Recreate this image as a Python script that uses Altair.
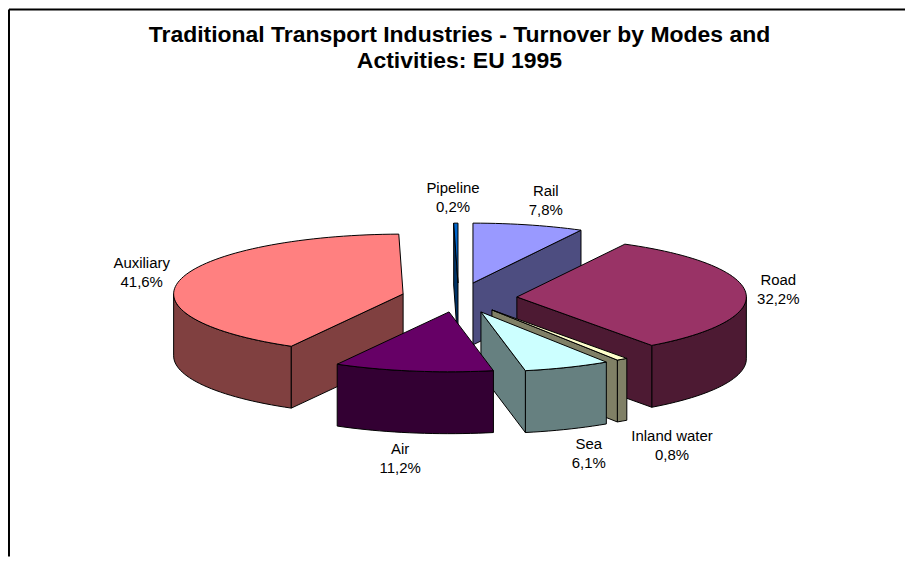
import math
import altair as alt
import pandas as pd

# --- data ---
categories = ["Rail", "Road", "Inland water", "Sea", "Air", "Auxiliary", "Pipeline"]
shares = [7.8, 32.2, 0.8, 6.1, 11.2, 41.6, 0.2]
share_labels = ["7,8%", "32,2%", "0,8%", "6,1%", "11,2%", "41,6%", "0,2%"]
top_colors = ["#9999FF", "#993366", "#FFFFCC", "#CCFFFF", "#660066", "#FF8080", "#0066CC"]
side_colors = ["#4D4D80", "#4D1A33", "#808066", "#668080", "#330033", "#804040", "#003366"]

# --- layout of the exploded 3-D pie ---
apex_x = [473, 517, 492, 481, 449, 403, 458]
apex_y = [282, 296, 309, 311, 311, 293, 282]
label_x = [546, 779, 672.5, 589, 400, 141, 453]
label_y = [190, 279, 435, 443, 448, 262, 187]
RX, RY, DEPTH = 230, 60, 62
draw_order = ["Auxiliary", "Pipeline", "Rail", "Road", "Inland water", "Sea", "Air"]
title_lines = ["Traditional Transport Industries - Turnover by Modes and", "Activities: EU 1995"]

X0, X1, Y0, Y1 = 8, 906, 8, 556

spans = {}
running = 0.0
for name, share in zip(categories, shares):
    end_angle = 360.0 if name == categories[-1] else (running + share) * 3.6
    spans[name] = (running * 3.6, end_angle)
    running += share

rows = []
poly_id = 0


def add_polygon(points, color):
    global poly_id
    poly_id += 1
    for i, (px, py) in enumerate(points + points[:1]):
        rows.append({"x": px, "y": py, "poly": f"p{poly_id:03d}", "i": i, "color": color})


def rim(cx, cy, start, end):
    n = max(2, int((end - start) / 2) + 2)
    out = []
    for k in range(n):
        t = math.radians(start + (end - start) * k / (n - 1))
        out.append((cx + RX * math.sin(t), cy - RY * math.cos(t)))
    return out


def wall(cx, cy, angle):
    t = math.radians(angle)
    ex, ey = cx + RX * math.sin(t), cy - RY * math.cos(t)
    return [(cx, cy), (ex, ey), (ex, ey + DEPTH), (cx, cy + DEPTH)]


for name in draw_order:
    k = categories.index(name)
    cx, cy = apex_x[k], apex_y[k]
    start, end = spans[name]
    # rim wall, front half only
    lo, hi = max(start, 90), min(end, 270)
    if hi > lo:
        arc = rim(cx, cy, lo, hi)
        add_polygon(arc + [(px, py + DEPTH) for px, py in reversed(arc)], side_colors[k])
    # radial walls that face the viewer
    if math.cos(math.radians(start - 90)) < 0:
        add_polygon(wall(cx, cy, start), side_colors[k])
    if math.cos(math.radians(end + 90)) < 0:
        add_polygon(wall(cx, cy, end), side_colors[k])
    # top face
    add_polygon([(cx, cy)] + rim(cx, cy, start, end), top_colors[k])

polys = pd.DataFrame(rows)
x_scale = alt.Scale(domain=[X0, X1], nice=False, zero=False)
y_scale = alt.Scale(domain=[Y1, Y0], nice=False, zero=False)
X = alt.X("x:Q", scale=x_scale, axis=None)
Y = alt.Y("y:Q", scale=y_scale, axis=None)

shapes = (
    alt.Chart(polys)
    .mark_line(stroke="black", strokeWidth=1, strokeJoin="round", clip=False, interpolate="linear")
    .encode(x=X, y=Y, detail="poly:N", order="i:Q", fill=alt.Fill("color:N", scale=None, legend=None))
)

name_df = pd.DataFrame({"x": label_x, "y": label_y, "t": categories})
pct_df = pd.DataFrame({"x": label_x, "y": [v + 19 for v in label_y], "t": share_labels})
label_font = dict(font="Liberation Sans", fontSize=15, color="black", align="center", baseline="middle")
names = alt.Chart(name_df).mark_text(**label_font).encode(x=X, y=Y, text="t:N")
pcts = alt.Chart(pct_df).mark_text(**label_font).encode(x=X, y=Y, text="t:N")

title_df = pd.DataFrame({"x": [459.5, 459.5], "y": [33, 60], "t": title_lines})
title = (
    alt.Chart(title_df)
    .mark_text(font="Liberation Sans", fontSize=23, fontWeight="bold", color="black", align="center", baseline="middle")
    .encode(x=X, y=Y, text="t:N")
)

frame_left = alt.Chart(pd.DataFrame({"x": [X0]})).mark_rule(color="black", strokeWidth=2).encode(x=X)
frame_top = alt.Chart(pd.DataFrame({"y": [Y0]})).mark_rule(color="black", strokeWidth=2).encode(y=Y)

chart = (
    alt.layer(frame_left, frame_top, shapes, names, pcts, title)
    .properties(width=X1 - X0, height=Y1 - Y0, padding=0, background="white")
    .configure_view(stroke=None)
)

chart.save("out.html", embed_options={"renderer": "svg", "actions": False})
